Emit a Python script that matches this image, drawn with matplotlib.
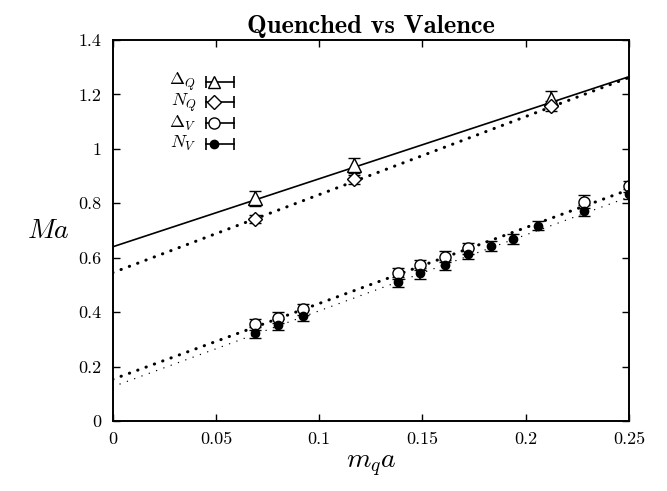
import matplotlib
matplotlib.use("Agg")
import matplotlib.pyplot as plt

# quenched data (three quark masses)
mq_quenched = [0.069, 0.117, 0.212]
delta_q = [0.818, 0.940, 1.182]
delta_q_err = [0.028, 0.028, 0.03]
nucl_q = [0.742, 0.888, 1.157]
nucl_q_err = [0.016, 0.016, 0.018]

# valence data
mq_val_delta = [0.069, 0.080, 0.092, 0.138, 0.149, 0.161, 0.172, 0.228, 0.250]
delta_v = [0.355, 0.380, 0.410, 0.543, 0.573, 0.604, 0.635, 0.806, 0.863]
delta_v_err = [0.02, 0.02, 0.02, 0.02, 0.02, 0.02, 0.02, 0.025, 0.02]
mq_val_nucl = [0.069, 0.080, 0.092, 0.138, 0.149, 0.161, 0.172, 0.183, 0.194, 0.206, 0.228, 0.250]
nucl_v = [0.324, 0.353, 0.386, 0.512, 0.543, 0.573, 0.614, 0.643, 0.668, 0.718, 0.772, 0.834]
nucl_v_err = [0.02, 0.02, 0.02, 0.018, 0.02, 0.02, 0.02, 0.018, 0.018, 0.018, 0.02, 0.02]

# linear fits, values at the ends of the x range
fit_x = [0.0, 0.25]
fit_delta_q = [0.640, 1.265]
fit_nucl_q = [0.545, 1.262]
fit_delta_v = [0.153, 0.850]
fit_nucl_v = [0.126, 0.823]

xticks = [0, 0.05, 0.1, 0.15, 0.2, 0.25]
yticks = [0, 0.2, 0.4, 0.6, 0.8, 1.0, 1.2, 1.4]

plt.rcParams["mathtext.fontset"] = "cm"
plt.rcParams["font.family"] = "cmr10"
plt.rcParams["axes.unicode_minus"] = False
plt.rcParams["axes.formatter.use_mathtext"] = True

fig = plt.figure(figsize=(6.67, 4.91), dpi=100)
ax = fig.add_axes([0.169, 0.1426, 0.774, 0.776])

# fit lines
ax.plot(fit_x, fit_delta_q, color="black", lw=1.2)
ax.plot(fit_x, fit_nucl_q, color="black", lw=2.2, linestyle=(0, (0.1, 2.8)),
        dash_capstyle="round")
ax.plot(fit_x, fit_delta_v, color="black", lw=2.2, linestyle=(0, (0.1, 2.8)),
        dash_capstyle="round")
ax.plot(fit_x, fit_nucl_v, color="black", lw=1.0, linestyle=(0, (0.1, 5.5)),
        dash_capstyle="round")

eb = dict(ecolor="black", elinewidth=1.2, capsize=4, capthick=1.2, linestyle="none")
ax.errorbar(mq_quenched, delta_q, yerr=delta_q_err, marker="^", ms=10, mfc="white",
            mec="black", mew=1.0, **eb)
ax.errorbar(mq_quenched, nucl_q, yerr=nucl_q_err, marker="D", ms=7, mfc="white",
            mec="black", mew=1.0, **eb)
ax.errorbar(mq_val_delta, delta_v, yerr=delta_v_err, marker="o", ms=8, mfc="white",
            mec="black", mew=1.0, **eb)
ax.errorbar(mq_val_nucl, nucl_v, yerr=nucl_v_err, marker="o", ms=6, mfc="black",
            mec="black", mew=1.0, **eb)

# gnuplot-like key: label then marker on a capped horizontal bar
key_labels = [r"$\Delta_Q$", r"$N_Q$", r"$\Delta_V$", r"$N_V$"]
key_markers = [("^", 9, "white"), ("D", 7, "white"), ("o", 8, "white"), ("o", 6, "black")]
key_y = [0.890, 0.836, 0.782, 0.728]
for lab, (mk, ms, fc), yy in zip(key_labels, key_markers, key_y):
    ax.text(0.162, yy, lab, transform=ax.transAxes, ha="right", va="center", fontsize=13)
    ax.plot([0.180, 0.235], [yy, yy], color="black", lw=1.2, transform=ax.transAxes,
            clip_on=False)
    ax.plot([0.180, 0.235], [yy, yy], color="black", lw=0, marker="|", ms=9, mew=1.2,
            transform=ax.transAxes, clip_on=False)
    ax.plot([0.196], [yy], marker=mk, ms=ms, mfc=fc, mec="black", mew=1.0,
            transform=ax.transAxes, clip_on=False)

ax.set_xlim(0, 0.25)
ax.set_ylim(0, 1.4)
ax.set_xticks(xticks)
ax.set_yticks(yticks)
ax.set_xticklabels([f"{t:g}" for t in xticks], fontsize=13)
ax.set_yticklabels([f"{t:g}" for t in yticks], fontsize=13)
ax.tick_params(direction="in", length=5, width=1, top=True, right=True, pad=8)
for s in ax.spines.values():
    s.set_linewidth(1.4)

ax.set_xlabel(r"$m_q a$", fontsize=20, labelpad=4)
ax.set_ylabel(r"$Ma$", fontsize=20, rotation=0, labelpad=22, va="center")
ax.set_title("Quenched vs Valence", fontsize=19, fontfamily="cmb10", pad=5)

fig.savefig("out.png", dpi=100)
